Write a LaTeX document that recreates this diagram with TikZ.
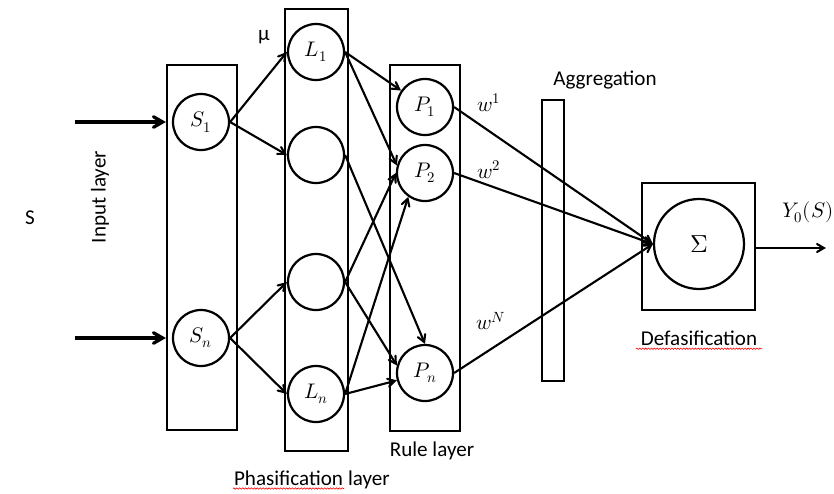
\documentclass[tikz,border=0pt]{standalone}
\usepackage{fontspec}
\usepackage{unicode-math}
\setmainfont{Carlito}
\setmathfont{Latin Modern Math}
\usepackage{tikz}
\usetikzlibrary{arrows,decorations.pathmorphing}
\tikzstyle{neuron}=[circle,draw=black,line width=1.9pt,minimum size=1.68cm,inner sep=0pt,font=\fontsize{18}{21}\selectfont]
\tikzstyle{layerbox}=[rectangle,draw=black,line width=1.9pt,inner sep=0pt]
\tikzstyle{caption}=[font=\fontsize{18}{21}\selectfont]
\tikzstyle{weight}=[font=\fontsize{18}{21}\selectfont]
\tikzstyle{typo}=[-,red,line width=0.5pt,decorate,decoration={snake,amplitude=0.6pt,segment length=2.5pt}]

\begin{document}
\begin{tikzpicture}[->,>=angle 60,line width=1.8pt,x=0.03cm,y=-0.03cm]
    \useasboundingbox (0,0) rectangle (834,493);

    % layer boxes
    \node[layerbox,minimum width=2.1cm,minimum height=10.95cm] (inbox) at (202,247.5) {};
    \node[layerbox,minimum width=1.89cm,minimum height=13.26cm] (phbox) at (316.5,230) {};
    \node[layerbox,minimum width=2.1cm,minimum height=10.98cm] (rulebox) at (425,248) {};
    \node[layerbox,minimum width=0.66cm,minimum height=8.43cm] (aggbox) at (553,240.5) {};
    \node[layerbox,minimum width=3.39cm,minimum height=3.81cm] (defbox) at (698.5,246.5) {};

    % neurons
    \node[neuron] (S1) at (201,122) {$S_1$};
    \node[neuron] (Sn) at (201,338) {$S_n$};
    \node[neuron] (L1) at (316,52) {$L_1$};
    \node[neuron] (L2) at (316,155) {};
    \node[neuron] (L3) at (316,282) {};
    \node[neuron] (Ln) at (316,394) {$L_n$};
    \node[neuron] (P1) at (425,107) {$P_1$};
    \node[neuron] (P2) at (425,173) {$P_2$};
    \node[neuron] (Pn) at (425,373) {$P_n$};
    \node[neuron,minimum size=2.7cm,font=\fontsize{21}{25}\selectfont] (sum) at (699,244) {$\Sigma$};

    \coordinate (in1) at (75,122);
    \coordinate (in2) at (75,338);
    \coordinate (out) at (826,248);

    % labels
    \node[caption] (S) at (30,218) {S};
    \node[caption,rotate=90] (inlabel) at (100,197) {Input layer};
    \node[caption] (mu) at (264,37) {μ};
    \node[weight] (w1) at (489,103) {$w^1$};
    \node[weight] (w2) at (489,170) {$w^2$};
    \node[weight] (wN) at (491,321) {$w^N$};
    \node[caption] (agglabel) at (605,80) {Aggregation};
    \node[weight] (ylabel) at (808,212) {$Y_0(S)$};
    \node[caption] (deflabel) at (699,338) {Defasification};
    \node[caption] (rulelabel) at (432,451) {Rule layer};
    \node[caption,anchor=base west,inner xsep=0pt] (phasword) at (233,485) {Phasification};
    \node[caption,anchor=base west,inner xsep=0pt,xshift=0.25em] (layerword) at (phasword.base east) {layer};
    \draw[typo] ([yshift=-3pt]phasword.base west) -- ([yshift=-3pt]phasword.base east);
    \draw[typo] ([yshift=-3pt]deflabel.base west) -- ([yshift=-3pt]deflabel.base east);

    \path
        (in1) edge[line width=2.8pt] (inbox.west |- in1)
        (in2) edge[line width=2.8pt] (inbox.west |- in2)
        (S1.east) edge (L1.west)
                  edge (L2.west)
        (Sn.east) edge (L3.west)
                  edge (Ln.west)
        (L1.east) edge (P1)
                  edge (P2.165)
        (L2.east) edge (Pn.north)
        (L3.east) edge (P2.west)
                  edge (Pn.165)
        (Ln.east) edge (P2.235)
                  edge (Pn)
        (P1.east) edge (sum.west)
        (P2.east) edge (sum.west)
        (Pn.east) edge (sum.west)
        (defbox.east |- out) edge (out);
\end{tikzpicture}
\end{document}
